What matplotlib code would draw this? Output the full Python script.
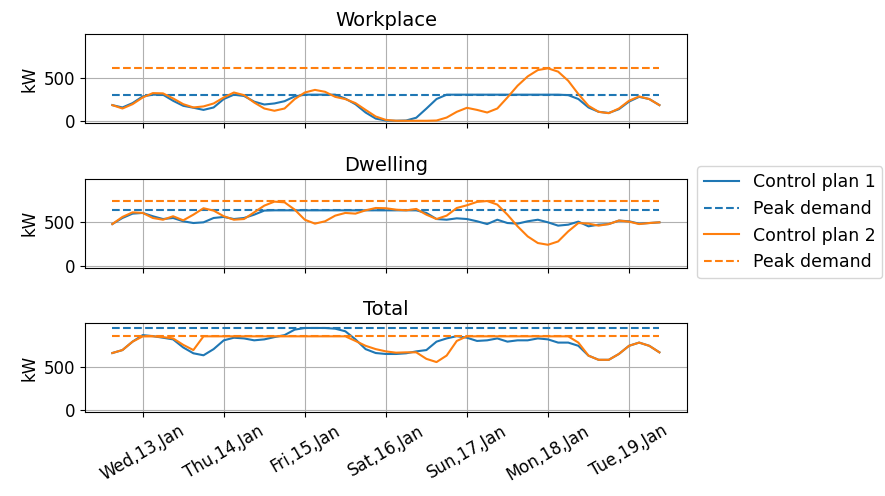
import matplotlib
matplotlib.use("Agg")
import matplotlib.pyplot as plt
import matplotlib.dates as mdates
import pandas as pd

# 3-hourly load profiles, 12 Jan 15:00 -> 19 Jan 09:00
TIMES = pd.date_range("2021-01-12 15:00", periods=55, freq="3h")

WORK_PLAN1 = [185, 158, 208, 285, 305, 305, 235, 177, 155, 130, 158, 255, 305, 290,
              225, 192, 204, 230, 285, 305, 305, 305, 305, 260, 195, 100, 30, 8,
              5, 8, 40, 145, 255, 305, 305, 305, 305, 305, 305, 305, 305, 305,
              305, 305, 305, 300, 255, 158, 108, 95, 138, 225, 280, 255, 185]
WORK_PLAN2 = [185, 146, 196, 273, 323, 320, 262, 196, 158, 170, 204, 273, 330, 300,
              215, 146, 120, 146, 254, 330, 360, 338, 280, 254, 208, 130, 54, 15,
              5, 5, 5, 5, 8, 42, 108, 154, 130, 100, 146, 273, 408, 515,
              588, 608, 570, 465, 312, 177, 108, 92, 146, 235, 285, 254, 185]

DWELL_PLAN1 = [480, 550, 600, 608, 570, 538, 550, 512, 492, 500, 550, 562, 538, 550,
               588, 635, 638, 638, 638, 638, 638, 638, 638, 638, 638, 638, 638, 638,
               638, 638, 638, 608, 538, 530, 546, 538, 512, 480, 530, 492, 485, 512,
               530, 500, 462, 473, 508, 454, 473, 480, 520, 512, 485, 492, 500]
DWELL_PLAN2 = [480, 562, 615, 608, 550, 530, 570, 523, 588, 662, 635, 570, 530, 538,
               615, 692, 738, 730, 646, 530, 485, 512, 577, 608, 600, 638, 665, 662,
               646, 638, 654, 588, 538, 577, 665, 696, 735, 745, 704, 588, 454, 338,
               262, 242, 280, 396, 492, 485, 462, 480, 520, 508, 480, 492, 500]

TOTAL_PLAN1 = [660, 694, 791, 866, 854, 836, 817, 724, 657, 634, 705, 806, 836, 828,
               806, 817, 843, 866, 929, 948, 948, 948, 940, 910, 817, 705, 660, 649,
               649, 657, 679, 694, 791, 828, 854, 836, 799, 806, 828, 791, 806, 806,
               828, 817, 780, 780, 743, 630, 582, 582, 649, 743, 780, 743, 668]
TOTAL_PLAN2 = [660, 694, 791, 851, 852, 843, 828, 754, 694, 852, 852, 852, 852, 852,
               852, 852, 852, 852, 852, 852, 852, 852, 852, 852, 799, 743, 705, 679,
               664, 668, 668, 593, 556, 631, 799, 852, 852, 852, 852, 852, 852, 852,
               852, 852, 852, 852, 780, 630, 582, 582, 649, 743, 780, 743, 668]

PANELS = [
    ("Workplace", WORK_PLAN1, WORK_PLAN2),
    ("Dwelling", DWELL_PLAN1, DWELL_PLAN2),
    ("Total", TOTAL_PLAN1, TOTAL_PLAN2),
]

fig, axes = plt.subplots(3, 1, figsize=(8.85, 4.96), dpi=100, sharex=True, sharey=True)
fig.subplots_adjust(left=0.096, right=0.776, top=0.931, bottom=0.169, hspace=0.63)

for ax, (title, plan1, plan2) in zip(axes, PANELS):
    ax.plot(TIMES, plan1, color="C0", label="Control plan 1")
    ax.plot(TIMES, [max(plan1)] * len(TIMES), "--", color="C0", label="Peak demand")
    ax.plot(TIMES, plan2, color="C1", label="Control plan 2")
    ax.plot(TIMES, [max(plan2)] * len(TIMES), "--", color="C1", label="Peak demand")
    ax.set_title(title, fontsize=14)
    ax.set_ylabel("kW", fontsize=12)
    ax.set_yticks([0, 500])
    ax.tick_params(labelsize=12)
    ax.grid(True)

axes[0].set_ylim(-20, 1000)
axes[-1].xaxis.set_major_locator(mdates.DayLocator())
axes[-1].xaxis.set_major_formatter(mdates.DateFormatter("%a,%d,%b"))
plt.setp(axes[-1].get_xticklabels(), rotation=30, ha="center")

# shared legend to the right of the middle panel
handles, labels = axes[0].get_legend_handles_labels()
fig.legend(handles, labels, loc="center left", bbox_to_anchor=(0.778, 0.552),
           fontsize=12.5)

fig.savefig("out.png", dpi=100)
